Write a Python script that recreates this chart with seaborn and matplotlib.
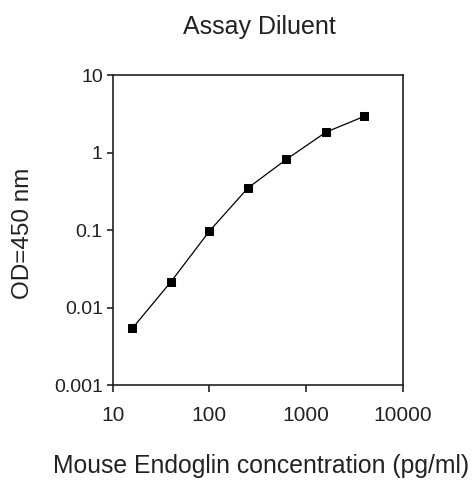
import pandas as pd
import matplotlib
matplotlib.use("Agg")
import matplotlib.pyplot as plt
import seaborn as sns
from matplotlib.ticker import FixedLocator, FixedFormatter, NullLocator

concentracao = [16, 40, 100, 250, 625, 1600, 4000]
od_450 = [0.0054, 0.0215, 0.097, 0.35, 0.82, 1.84, 2.95]

x_ticks = [10, 100, 1000, 10000]
x_labels = ["10", "100", "1000", "10000"]
y_ticks = [0.001, 0.01, 0.1, 1, 10]
y_labels = ["0.001", "0.01", "0.1", "1", "10"]

df = pd.DataFrame({"conc": concentracao, "od": od_450})

sns.set_style("ticks")
plt.rcParams["font.family"] = ["Liberation Sans", "DejaVu Sans"]

fig = plt.figure(figsize=(4.73, 4.82), dpi=100)
ax = fig.add_axes([0.238, 0.201, 0.614, 0.643])

sns.lineplot(data=df, x="conc", y="od", ax=ax, color="black", linewidth=0.9,
             marker="s", markersize=5.5, markeredgecolor="black")

ax.set_xscale("log")
ax.set_yscale("log")
ax.set_xlim(10, 10000)
ax.set_ylim(0.001, 10)

ax.xaxis.set_major_locator(FixedLocator(x_ticks))
ax.xaxis.set_major_formatter(FixedFormatter(x_labels))
ax.xaxis.set_minor_locator(NullLocator())
ax.yaxis.set_major_locator(FixedLocator(y_ticks))
ax.yaxis.set_major_formatter(FixedFormatter(y_labels))
ax.yaxis.set_minor_locator(NullLocator())

ax.tick_params(axis="x", labelsize=15, length=5, width=1.2, color="#222222",
               labelcolor="#222222", pad=10)
ax.tick_params(axis="y", labelsize=14, length=4, width=1.2, color="#222222",
               labelcolor="#222222", pad=3)

for lado in ["left", "bottom", "top", "right"]:
    ax.spines[lado].set_visible(True)
    ax.spines[lado].set_linewidth(1.2)
    ax.spines[lado].set_color("#222222")

ax.set_xlabel("Mouse Endoglin concentration (pg/ml)", fontsize=17.8, color="#222222")
ax.xaxis.label.set_va("center")
ax.xaxis.set_label_coords(0.51, -0.262)

ax.set_ylabel("OD=450 nm", fontsize=17.5, color="#222222")
ax.yaxis.label.set_va("center")
ax.yaxis.set_label_coords(-0.309, 0.49)

fig.text(0.548, 0.944, "Assay Diluent", fontsize=18, color="#222222", ha="center", va="center")

fig.savefig("out.png", dpi=100, facecolor="white")
